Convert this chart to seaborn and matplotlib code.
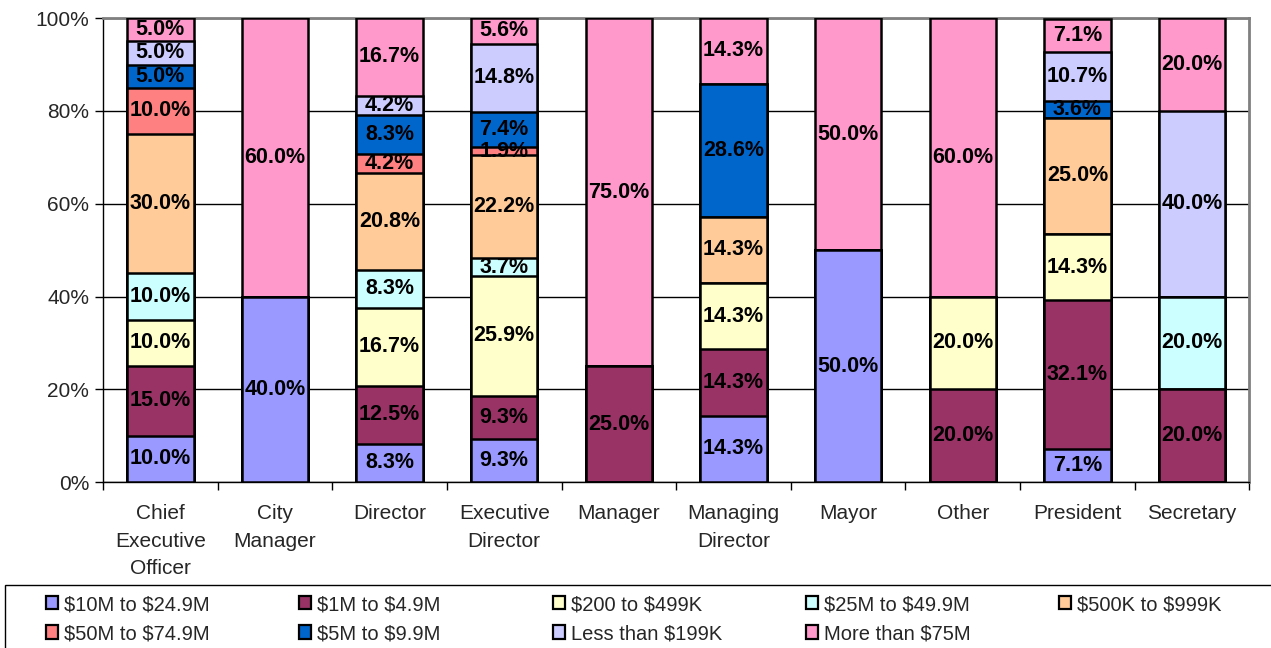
import matplotlib
matplotlib.use("Agg")
import matplotlib.pyplot as plt
from matplotlib.patches import Patch, Rectangle
from matplotlib.ticker import FixedLocator, PercentFormatter
import numpy as np
import seaborn as sns

# categories (job titles) and tick labels
titles = ["Chief Executive Officer", "City Manager", "Director", "Executive Director",
          "Manager", "Managing Director", "Mayor", "Other", "President", "Secretary"]
tick_labels = ["Chief\nExecutive\nOfficer", "City\nManager", "Director", "Executive\nDirector",
               "Manager", "Managing\nDirector", "Mayor", "Other", "President", "Secretary"]

# series, bottom to top of each stack
series = ["$10M to $24.9M", "$1M to $4.9M", "$200 to $499K", "$25M to $49.9M",
          "$500K to $999K", "$50M to $74.9M", "$5M to $9.9M", "Less than $199K",
          "More than $75M"]
colors = ["#9999FF", "#993366", "#FFFFCC", "#CCFFFF", "#FFCC99",
          "#FF8080", "#0066CC", "#CCCCFF", "#FF99CC"]

# share (%) of each series per title
s_10m_24m = [10.0, 40.0, 8.3, 9.3, 0, 14.3, 50.0, 0, 7.1, 0]
s_1m_4m = [15.0, 0, 12.5, 9.3, 25.0, 14.3, 0, 20.0, 32.1, 20.0]
s_200_499k = [10.0, 0, 16.7, 25.9, 0, 14.3, 0, 20.0, 14.3, 0]
s_25m_49m = [10.0, 0, 8.3, 3.7, 0, 0, 0, 0, 0, 20.0]
s_500k_999k = [30.0, 0, 20.8, 22.2, 0, 14.3, 0, 0, 25.0, 0]
s_50m_74m = [10.0, 0, 4.2, 1.9, 0, 0, 0, 0, 0, 0]
s_5m_9m = [5.0, 0, 8.3, 7.4, 0, 28.6, 0, 0, 3.6, 0]
s_less_199k = [5.0, 0, 4.2, 14.8, 0, 0, 0, 0, 10.7, 40.0]
s_more_75m = [5.0, 60.0, 16.7, 5.6, 75.0, 14.3, 50.0, 60.0, 7.1, 20.0]

values = np.array([s_10m_24m, s_1m_4m, s_200_499k, s_25m_49m, s_500k_999k,
                   s_50m_74m, s_5m_9m, s_less_199k, s_more_75m])

sns.set_style("white")
plt.rcParams["font.family"] = ["Liberation Sans", "DejaVu Sans"]
plt.rcParams["text.parse_math"] = False

fig = plt.figure(figsize=(12.71, 6.48), dpi=100)
ax = fig.add_axes([0.081, 0.256, 0.902, 0.716])

# stacked bars: draw cumulative totals from the top layer down
cum = np.cumsum(values, axis=0)
for i in range(len(series) - 1, -1, -1):
    sns.barplot(x=titles, y=cum[i], color=colors[i], saturation=1, width=0.58,
                edgecolor="black", linewidth=1.8, ax=ax, zorder=3)

# segment labels
bottoms = cum - values
for i in range(len(series)):
    for j in range(len(titles)):
        v = values[i, j]
        if v > 0:
            ax.text(j, bottoms[i, j] + v / 2, f"{v:.1f}%", ha="center", va="center",
                    fontsize=15.5, fontweight="bold", color="black", zorder=5)

ax.set_ylim(0, 100)
ax.set_xlim(-0.5, len(titles) - 0.5)
ax.yaxis.set_major_locator(FixedLocator([0, 20, 40, 60, 80, 100]))
ax.yaxis.set_major_formatter(PercentFormatter(decimals=0))
ax.set_xticks(range(len(titles)))
ax.set_xticklabels(tick_labels, fontsize=15, linespacing=1.55)
ax.xaxis.set_minor_locator(FixedLocator(np.arange(-0.5, len(titles), 1)))
ax.tick_params(axis="x", which="major", length=0, pad=16)
ax.tick_params(axis="x", which="minor", length=6, width=1, color="black", bottom=True)
ax.tick_params(axis="y", length=6, width=1, color="black", left=True, labelsize=15, pad=4)
ax.set_xlabel("")
ax.set_ylabel("")

ax.grid(axis="y", color="black", linewidth=1, zorder=0)
ax.set_axisbelow(True)
for side in ["left", "bottom"]:
    ax.spines[side].set_color("black")
    ax.spines[side].set_linewidth(1)
for side in ["top", "right"]:
    ax.spines[side].set_color("#808080")
    ax.spines[side].set_linewidth(2)

# legend at the bottom: equal-width columns, filled row by row
legend_cols = [[0, 5], [1, 6], [2, 7], [3, 8], [4]]
col_x = [46, 299, 553, 806, 1059]
for cols, x in zip(legend_cols, col_x):
    handles = [Patch(facecolor=colors[k], edgecolor="black", linewidth=1.6) for k in cols]
    labels = [series[k] for k in cols]
    fig.legend(handles, labels, loc="upper left", bbox_to_anchor=(x / 1271, 1 - 595 / 648),
               fontsize=14.5, frameon=False, handlelength=0.62, handleheight=0.62,
               handletextpad=0.25, borderpad=0, borderaxespad=0, labelspacing=0.5)
fig.patches.append(Rectangle((5 / 1271, -0.05), 1.1, 0.05 + 63 / 648, transform=fig.transFigure,
                             facecolor="none", edgecolor="black", linewidth=1))

fig.savefig("out.png", dpi=100)
